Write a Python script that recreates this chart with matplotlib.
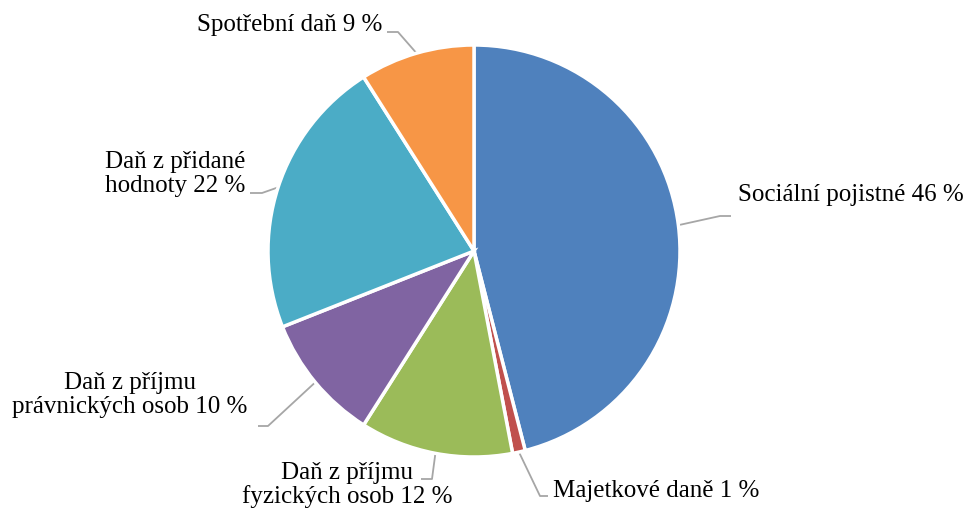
import numpy as np
import matplotlib.pyplot as plt

labels = ['Sociální pojistné', 'Majetkové daně', 'Daň z příjmu\nfyzických osob',
          'Daň z příjmu\nprávnických osob', 'Daň z přidané\nhodnoty', 'Spotřební daň']
values = [46, 1, 12, 10, 22, 9]
colors = ['#4F81BD', '#C0504D', '#9BBB59', '#8064A2', '#4BACC6', '#F79646']

plt.rcParams['font.family'] = ['Liberation Serif', 'DejaVu Serif']

W, H = 967, 510
fig = plt.figure(figsize=(W / 100, H / 100), dpi=100)
ax = fig.add_axes([0, 0, 1, 1])

cx, cy, r = 474, H - 252, 206
wedges, _ = ax.pie(values, colors=colors, startangle=90, counterclock=False,
                   center=(cx, cy), radius=r, frame=True,
                   wedgeprops=dict(edgecolor='white', linewidth=2.5))
ax.set_xlim(0, W)
ax.set_ylim(0, H)
ax.set_aspect('equal')
ax.axis('off')

# label layout: (elbow x, elbow y, end x, text x, text y, ha) in pixel coords (y down)
layout = [
    (720, 217, 731, 738, 195, 'left'),
    (540, 497, 548, 553, 491, 'left'),
    (432, 480, 421, 347, 485, 'center'),
    (268, 427, 258, 130, 395, 'center'),
    (262, 194, 250, 175, 174, 'center'),
    (398, 33, 387, 290, 25, 'center'),
]

for w, lab, v, (ex, ey, hx, tx, ty, ha) in zip(wedges, labels, values, layout):
    ang = np.deg2rad((w.theta1 + w.theta2) / 2)
    px = cx + r * np.cos(ang)
    py = cy + r * np.sin(ang)
    ax.plot([px, ex, hx], [py, H - ey, H - ey], color='#A6A6A6', lw=1.3,
            solid_capstyle='butt', zorder=0)
    ax.text(tx, H - ty, f'{lab} {v} %', ha=ha, va='center', multialignment='center',
            fontsize=18, color='black', linespacing=1.1)

fig.savefig('out.png', dpi=100)
